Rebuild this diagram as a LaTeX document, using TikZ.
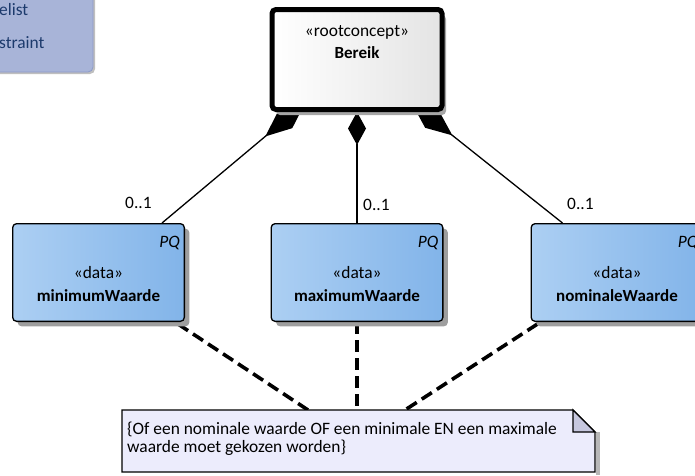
\documentclass[tikz,border=0pt]{standalone}
\usepackage{fontspec}
\setmainfont{Carlito}
\usetikzlibrary{arrows.meta,calc,shadows}
\definecolor{dataL}{RGB}{172,207,243}
\definecolor{dataR}{RGB}{130,180,233}
\definecolor{legfill}{RGB}{168,180,216}
\definecolor{legline}{RGB}{140,154,200}
\definecolor{legtext}{RGB}{28,58,108}
\definecolor{notefill}{RGB}{236,236,252}
\definecolor{foldfill}{RGB}{198,199,222}
\definecolor{rootR}{RGB}{228,228,228}
\pgfdeclarelayer{background}
\pgfsetlayers{background,main}
\tikzset{
  databox/.style={draw=black, line width=1.3pt, rounded corners=4pt,
    left color=dataL, right color=dataR, minimum width=171.7pt,
    minimum height=97.7pt, inner sep=0pt,
    drop shadow={shadow xshift=5pt, shadow yshift=-5pt, fill=black!38, opacity=1}},
  rootbox/.style={draw=black, line width=5pt, rounded corners=4pt,
    left color=white, right color=rootR, minimum width=170pt,
    minimum height=100pt, inner sep=0pt,
    drop shadow={shadow xshift=4pt, shadow yshift=-5.5pt, fill=black!35, opacity=1}},
  lbl/.style={font=\fontsize{17.4}{19}\selectfont, inner sep=0pt, anchor=base},
  boldlbl/.style={lbl, font=\fontsize{17}{19}\selectfont\bfseries},
  pqlbl/.style={lbl, anchor=base east, font=\fontsize{17.4}{19}\selectfont\itshape},
  multlbl/.style={lbl, anchor=base west},
  notelbl/.style={lbl, anchor=base west},
  leglbl/.style={lbl, anchor=base west, text=legtext},
  assoc/.style={draw=black, line width=1.3pt},
  dashline/.style={draw=black, line width=3.6pt, dash pattern=on 12pt off 6pt},
  notebox/.style={inner sep=0pt, outer sep=0pt, minimum width=473pt, minimum height=62pt},
}
\begin{document}
\begin{tikzpicture}[x=1pt,y=-1pt]
\useasboundingbox (0,0) rectangle (695,475);

% legend box (partly outside the picture)
\filldraw[fill=legfill, draw=legline, line width=0.8pt, rounded corners=5pt,
  drop shadow={shadow xshift=2pt, shadow yshift=-2pt, fill=black!25, opacity=1}]
  (-10,-10) rectangle (93,72);
\node[leglbl] (leg1) at (-1,15) {elist};
\node[leglbl] (leg2) at (-1,48) {straint};

% root concept
\node[rootbox] (root) at (357,59.5) {};
\node[lbl] (rootst) at (357,36) {«rootconcept»};
\node[boldlbl] (rootname) at (357,58) {Bereik};

% data boxes
\node[databox] (minb) at (98.5,272.5) {};
\node[databox] (maxb) at (357,272.5) {};
\node[databox] (nomb) at (617,272.5) {};

\node[pqlbl] (pq1) at ($(minb.north east)+(-5,24)$) {PQ};
\node[pqlbl] (pq2) at ($(maxb.north east)+(-5,24)$) {PQ};
\node[pqlbl] (pq3) at ($(nomb.north east)+(-5,24)$) {PQ};

\node[lbl] (st1) at (98.5,278) {«data»};
\node[boldlbl] (n1) at (98.5,301) {minimumWaarde};
\node[lbl] (st2) at (357,278) {«data»};
\node[boldlbl] (n2) at (357,301) {maximumWaarde};
\node[lbl] (st3) at (617,278) {«data»};
\node[boldlbl] (n3) at (617,301) {nominaleWaarde};

% multiplicities
\node[multlbl] (m1) at (125,208) {0..1};
\node[multlbl] (m2) at (363,210) {0..1};
\node[multlbl] (m3) at (567,209) {0..1};

% note
\node[notebox] (note) at (358.5,441) {};
\fill[black!28] ($(note.north east)+(1,22)$) rectangle ($(note.south east)+(5,3)$);
\draw[line width=1.3pt, fill=notefill, line join=miter]
  (note.north west) -- ($(note.north east)+(-22,0)$) -- ($(note.north east)+(0,22)$)
  -- (note.south east) -- (note.south west) -- cycle;
\draw[line width=1.3pt, fill=foldfill, line join=miter]
  ($(note.north east)+(-22,0)$) -- ($(note.north east)+(-22,22)$)
  -- ($(note.north east)+(0,22)$) -- cycle;
\node[notelbl] (nt1) at (127,434) {\{Of een nominale waarde OF een minimale EN een maximale};
\node[notelbl] (nt2) at (127,452) {waarde moet gekozen worden\}};

% connectors
\begin{pgfonlayer}{background}
\coordinate (A) at ($(minb.north west)+(150,0)$);
\coordinate (B) at ($(nomb.north west)+(32,0)$);
\draw[assoc, {Diamond[length=52pt,width=22pt]}-] ($(A)!0.734!(root.center)$) -- (A);
\draw[assoc, {Diamond[length=33pt,width=18pt]}-] (root.south) -- (root.south |- maxb.north);
\draw[assoc, {Diamond[length=52pt,width=22pt]}-] ($(B)!0.734!(root.center)$) -- (B);

\draw[dashline] ($(minb.south east)+(-7,2)$) -- ($(note.north west)+(186,0)$);
\draw[dashline] (maxb.south) -- (maxb.south |- note.north);
\draw[dashline] ($(nomb.south west)+(7,2)$) -- ($(note.north west)+(283,0)$);
\end{pgfonlayer}
\end{tikzpicture}
\end{document}
